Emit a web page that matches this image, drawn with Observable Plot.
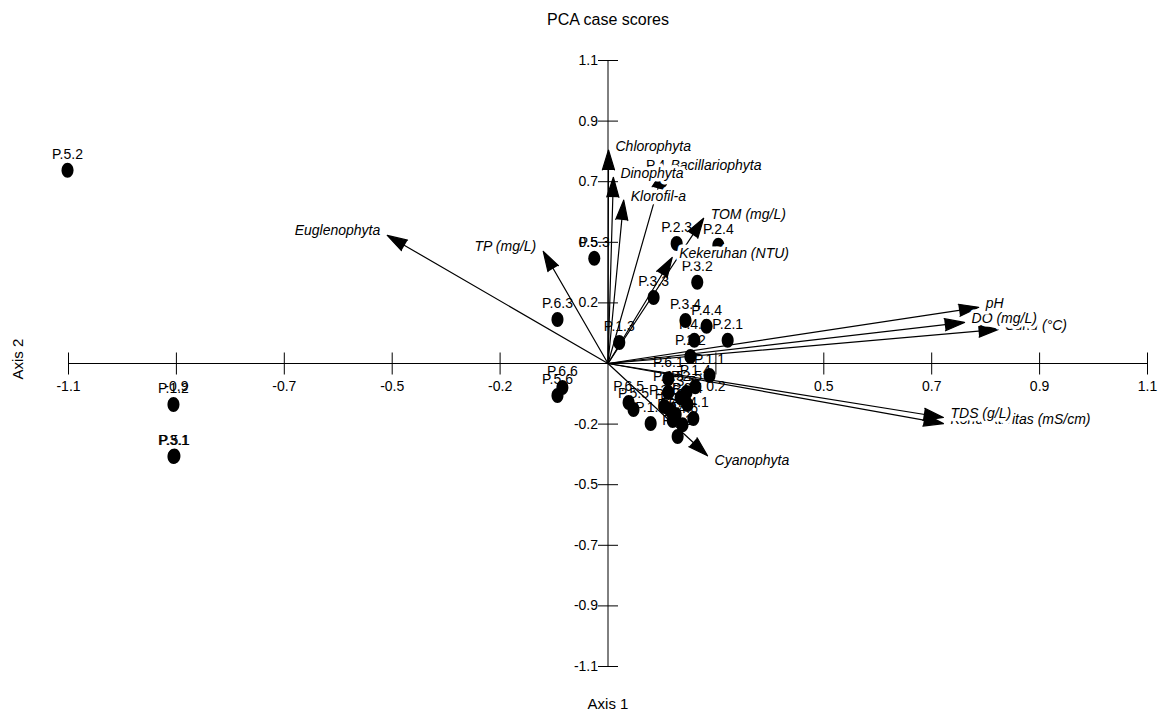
<!DOCTYPE html>
<html><head><meta charset="utf-8">
<script src="https://cdn.jsdelivr.net/npm/d3@7"></script>
<script src="https://cdn.jsdelivr.net/npm/@observablehq/plot@0.6"></script>
<style>body{margin:0;background:#fff;} svg{display:block;}</style>
</head><body><div id="chart"></div>
<script>
// ---- data ----
const title = "PCA case scores";
const xLabel = "Axis 1";
const yLabel = "Axis 2";

const sampleNames = ["P.5.2","P.1.2","P.3.1","P.5.1","P.5.3","P.6.3","P.6.6","P.5.6","P.1.3","P.4.3","P.2.3","P.2.4",
  "P.3.2","P.3.3","P.3.4","P.4.4","P.4.2","P.2.1","P.2.2","P.6.1","P.1.4","P.1.1","P.6.5","P.5.5",
  "P.4.5","P.3.5","P.2.5","P.3.6","P.1.6","P.2.6","P.4.1","P.4.6","P.6.2","P.1.5","P.6.4","P.5.4"];
const sampleX = [-1.102,-0.886,-0.886,-0.884,-0.028,-0.103,-0.093,-0.103,0.023,0.109,0.140,0.225,
  0.182,0.093,0.158,0.201,0.176,0.244,0.168,0.123,0.178,0.207,0.042,0.052,
  0.123,0.148,0.160,0.115,0.087,0.138,0.174,0.152,0.142,0.127,0.162,0.132];
const sampleY = [0.702,-0.149,-0.338,-0.336,0.382,0.160,-0.087,-0.116,0.076,0.662,0.436,0.429,
  0.295,0.240,0.156,0.135,0.084,0.084,0.025,-0.055,-0.084,-0.044,-0.142,-0.167,
  -0.105,-0.124,-0.105,-0.156,-0.218,-0.185,-0.200,-0.222,-0.265,-0.171,-0.149,-0.207];

const varNames = ["Chlorophyta","Bacillariophyta","Dinophyta","Klorofil-a","TOM (mg/L)","Kekeruhan (NTU)",
  "TP (mg/L)","Euglenophyta","Suhu (°C)","DO (mg/L)","pH","Konduktivitas (mS/cm)","TDS (g/L)","Cyanophyta"];
const varX = [0.001,0.113,0.011,0.032,0.195,0.131,-0.132,-0.450,0.796,0.727,0.756,0.684,0.684,0.203];
const varY = [0.775,0.705,0.676,0.593,0.527,0.385,0.407,0.465,0.124,0.149,0.204,-0.218,-0.196,-0.335];

const tickValues = [-1.1,-0.88,-0.66,-0.44,-0.22,0.22,0.44,0.66,0.88,1.1];
const tickLabels = ["-1.1","-0.9","-0.7","-0.5","-0.2","0.2","0.5","0.7","0.9","1.1"];

// ---- build tables ----
const samples = sampleNames.map((name, i) => ({name, x: sampleX[i], y: sampleY[i]}));
const vars = varNames.map((name, i) => ({name, x: varX[i], y: varY[i]}));
const ticks = tickValues.map((v, i) => ({v, label: tickLabels[i]}));

// custom symbols
const ellipse = {draw(ctx, size) {
  const r = Math.sqrt(size / Math.PI), rx = r * 0.8, ry = r, k = 0.5523;
  ctx.moveTo(rx, 0);
  ctx.bezierCurveTo(rx, ry * k, rx * k, ry, 0, ry);
  ctx.bezierCurveTo(-rx * k, ry, -rx, ry * k, -rx, 0);
  ctx.bezierCurveTo(-rx, -ry * k, -rx * k, -ry, 0, -ry);
  ctx.bezierCurveTo(rx * k, -ry, rx, -ry * k, rx, 0);
  ctx.closePath();
}};
const vTick = {draw(ctx) { ctx.moveTo(0, -11); ctx.lineTo(0, 11); }};
const hTick = {draw(ctx) { ctx.moveTo(-10, 0); ctx.lineTo(10, 0); }};

const labelStyle = {fontStyle: "italic", fontSize: 14, fill: "black", stroke: "white", strokeWidth: 7, paintOrder: "stroke"};

const chart = Plot.plot({
  width: 1160, height: 713,
  marginLeft: 68, marginRight: 13, marginTop: 60, marginBottom: 47,
  x: {domain: [-1.1, 1.1], axis: null},
  y: {domain: [-1.1, 1.1], axis: null},
  style: {fontFamily: "'Liberation Sans', Arial, sans-serif", fontSize: "14px", background: "white", color: "black"},
  marks: [
    Plot.ruleY([0], {stroke: "black", strokeWidth: 1}),
    Plot.ruleX([0], {stroke: "black", strokeWidth: 1}),
    Plot.dot(ticks, {x: "v", y: () => 0, symbol: vTick, fill: "none", stroke: "black", strokeWidth: 1}),
    Plot.dot(ticks, {x: () => 0, y: "v", symbol: hTick, fill: "none", stroke: "black", strokeWidth: 1}),
    Plot.text(ticks, {x: "v", y: () => 0, text: "label", dy: 23, fontSize: 14}),
    Plot.text(ticks, {x: () => 0, y: "v", text: "label", textAnchor: "end", dx: -10, fontSize: 14}),
    Plot.arrow(vars, {x1: () => 0, y1: () => 0, x2: "x", y2: "y", stroke: "black", fill: "black",
      strokeWidth: 1.2, headLength: 26, headAngle: 34}),
    Plot.text(samples, {x: "x", y: "y", text: "name", dy: -16, fontSize: 14}),
    Plot.dot(samples, {x: "x", y: "y", symbol: ellipse, r: 7.5, fill: "black", stroke: "none"}),
    Plot.text(vars.filter(d => d.x >= 0 && d.y > -0.3), {x: "x", y: "y", text: "name", textAnchor: "start", dx: 7, dy: -4, ...labelStyle}),
    Plot.text(vars.filter(d => d.x >= 0 && d.y <= -0.3), {x: "x", y: "y", text: "name", textAnchor: "start", dx: 7, dy: 5, ...labelStyle}),
    Plot.text(vars.filter(d => d.x < 0), {x: "x", y: "y", text: "name", textAnchor: "end", dx: -7, dy: -5, ...labelStyle}),
    Plot.text([title], {frameAnchor: "top", text: d => d, dy: -47, fontSize: 16}),
    Plot.text([xLabel], {frameAnchor: "bottom", text: d => d, dy: 42, fontSize: 15}),
    Plot.text([yLabel], {frameAnchor: "left", text: d => d, dx: -50, dy: 16, rotate: -90, fontSize: 15})
  ]
});
document.getElementById("chart").appendChild(chart);
</script>
</body></html>
